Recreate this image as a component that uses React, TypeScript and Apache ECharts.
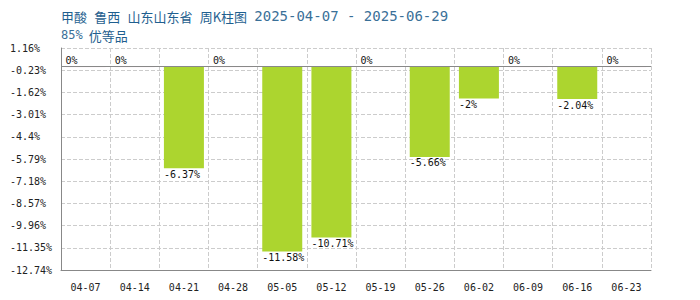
import React, { useEffect, useRef } from "react";
import * as echarts from "echarts";

const categories = ["04-07", "04-14", "04-21", "04-28", "05-05", "05-12", "05-19", "05-26", "06-02", "06-09", "06-16", "06-23"];
const values = [0, 0, -6.37, 0, -11.58, -10.71, 0, -5.66, -2, 0, -2.04, 0];
const yTicks = [1.16, -0.23, -1.62, -3.01, -4.4, -5.79, -7.18, -8.57, -9.96, -11.35, -12.74];
const titleWords = ["甲酸", "鲁西", "山东山东省", "周K柱图"];
const titleDates = "2025-04-07 - 2025-06-29";
const subGrade = "85%";
const subName = "优等品";

const MONO = "'DejaVu Sans Mono', 'Liberation Mono', monospace";
const CJK = "'Noto Sans CJK SC', 'Noto Sans', sans-serif";
const TITLE_COLOR = "#1f5f8f";
const DATE_COLOR = "#3a7098";

export default function App() {
  const ref = useRef<HTMLDivElement>(null);
  useEffect(() => {
    document.body.style.margin = "0";
    if (!ref.current) return;
    const chart = echarts.init(ref.current, undefined, { renderer: "svg" });
    const data = values.map((v) => {
      if (v === 0) {
        return {
          value: v,
          itemStyle: { color: "#b0508a", borderColor: "#b0508a", borderWidth: 1 },
          label: { position: "top", distance: 1 },
        };
      }
      return {
        value: v,
        itemStyle: { color: "#acd52f" },
        label: { position: "bottom", distance: 1 },
      };
    });
    const titleText =
      titleWords.map((w) => `{a|${w}}`).join("{s| }") + `{s| }{b|${titleDates}}`;
    chart.setOption({
      animation: false,
      title: {
        left: 61,
        top: 8,
        padding: 0,
        text: titleText,
        subtext: `{b|${subGrade}}{s| }{a|${subName}}`,
        itemGap: 3,
        textStyle: {
          fontWeight: "normal",
          lineHeight: 16,
          rich: {
            a: { fontFamily: CJK, fontSize: 13, lineHeight: 16, color: TITLE_COLOR, fontWeight: "normal" },
            s: { fontFamily: MONO, fontSize: 12, lineHeight: 16, color: TITLE_COLOR, fontWeight: "normal" },
            b: { fontFamily: MONO, fontSize: 14, lineHeight: 16, color: DATE_COLOR, fontWeight: "normal" },
          },
        },
        subtextStyle: {
          lineHeight: 16,
          rich: {
            a: { fontFamily: CJK, fontSize: 13, lineHeight: 16, color: TITLE_COLOR, fontWeight: "normal" },
            s: { fontFamily: MONO, fontSize: 10, lineHeight: 16, color: TITLE_COLOR },
            b: { fontFamily: MONO, fontSize: 12, lineHeight: 16, color: DATE_COLOR, fontWeight: "normal" },
          },
        },
      },
      grid: { left: 61, right: 49, top: 48, bottom: 30 },
      xAxis: {
        type: "category",
        data: categories,
        boundaryGap: true,
        axisLine: { onZero: false, lineStyle: { color: "#888", width: 1 } },
        axisTick: { show: false },
        axisLabel: { fontFamily: MONO, fontSize: 10, color: "#222", margin: 12, interval: 0 },
        splitLine: { show: true, lineStyle: { color: "#ccc", type: "dashed", width: 1 } },
      },
      yAxis: {
        type: "value",
        min: -12.74,
        max: 1.16,
        axisLine: { show: true, lineStyle: { color: "#888", width: 1 } },
        axisTick: { show: false, customValues: yTicks },
        axisLabel: {
          customValues: yTicks,
          fontFamily: MONO,
          fontSize: 10,
          color: "#222",
          align: "left",
          margin: 51,
          formatter: (v: number) => `${v}%`,
        },
        splitLine: { show: true, lineStyle: { color: "#ccc", type: "dashed", width: 1 } },
      },
      series: [
        {
          type: "bar",
          data,
          barWidth: 40,
          label: {
            show: true,
            fontFamily: MONO,
            fontSize: 10,
            color: "#111",
            align: "left",
            offset: [-20, 0],
            formatter: (p: any) => `${p.value}%`,
          },
          markLine: {
            silent: true,
            symbol: "none",
            label: { show: false },
            lineStyle: { color: "#888", type: "solid", width: 1 },
            data: [{ yAxis: 0 }],
          },
        },
      ],
    });
    return () => chart.dispose();
  }, []);
  return <div ref={ref} style={{ width: 700, height: 300 }} />;
}
